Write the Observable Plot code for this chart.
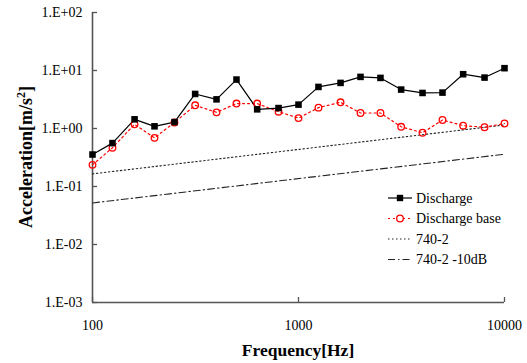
<!DOCTYPE html>
<html>
<head>
<meta charset="utf-8">
<script src="https://cdn.jsdelivr.net/npm/d3@7"></script>
<script src="https://cdn.jsdelivr.net/npm/@observablehq/plot@0.6"></script>
<style>
  html, body { margin: 0; padding: 0; background: white; }
</style>
</head>
<body>
<div id="chart"></div>
<script>
const freqs = [100,125,160,200,250,315,400,500,630,800,1000,1250,1600,2000,2500,3150,4000,5000,6300,8000,10000];
const discharge = [0.356,0.56,1.44,1.09,1.29,3.94,3.18,6.98,2.14,2.25,2.58,5.21,6.11,7.76,7.45,4.69,4.10,4.16,8.63,7.55,10.96];
const dischargeBase = [0.236,0.465,1.18,0.69,1.27,2.51,1.90,2.69,2.69,1.95,1.51,2.29,2.83,1.85,1.85,1.07,0.845,1.40,1.12,1.05,1.22];
const limitFreqs = [100, 10000];
const limit740 = [0.165, 1.15];
const limit740m10 = [0.052, 0.36];
const xTicks = [100, 1000, 10000];
const yTicks = [1e-3, 1e-2, 1e-1, 1e0, 1e1, 1e2];
const seriesNames = ["Discharge", "Discharge base", "740-2", "740-2 -10dB"];

const dData = freqs.map((f, i) => ({f, v: discharge[i]}));
const bData = freqs.map((f, i) => ({f, v: dischargeBase[i]}));
const l1 = limitFreqs.map((f, i) => ({f, v: limit740[i]}));
const l2 = limitFreqs.map((f, i) => ({f, v: limit740m10[i]}));

const fmtY = d => {
  const e = Math.round(Math.log10(d));
  return "1.E" + (e >= 0 ? "+" : "-") + String(Math.abs(e)).padStart(2, "0");
};

const serif = "'Liberation Serif', 'Times New Roman', serif";
const axisColor = "#555";

const chart = Plot.plot({
  width: 527,
  height: 363,
  marginLeft: 92,
  marginRight: 23,
  marginTop: 12,
  marginBottom: 61,
  style: {fontFamily: serif, fontSize: "14px", color: "#000", background: "white"},
  x: {type: "log", domain: [100, 10000]},
  y: {type: "log", domain: [1e-3, 1e2]},
  marks: [
    Plot.axisY({ticks: yTicks, tickFormat: fmtY, tickSize: -5, tickPadding: 15, stroke: axisColor, strokeWidth: 1.3, label: null, fontSize: 14}),
    Plot.axisX({ticks: xTicks, tickFormat: d => String(d), tickSize: -5, tickPadding: 23, stroke: axisColor, strokeWidth: 1.3, label: null, fontSize: 14}),
    Plot.ruleX([100], {stroke: axisColor, strokeWidth: 1.6}),
    Plot.ruleY([1e-3], {stroke: axisColor, strokeWidth: 1.6}),
    Plot.line(l1, {x: "f", y: "v", stroke: "#222", strokeWidth: 1.1, strokeDasharray: "1.5,2.5"}),
    Plot.line(l2, {x: "f", y: "v", stroke: "#222", strokeWidth: 1.1, strokeDasharray: "7,3,1.5,3"}),
    Plot.line(bData, {x: "f", y: "v", stroke: "#ff0000", strokeWidth: 1.2, strokeDasharray: "2,3"}),
    Plot.line(dData, {x: "f", y: "v", stroke: "#000", strokeWidth: 1.2}),
    Plot.dot(bData, {x: "f", y: "v", symbol: "circle", r: 3.3, stroke: "#ff0000", strokeWidth: 1.3, fill: "none"}),
    Plot.dot(dData, {x: "f", y: "v", symbol: "square", r: 3.7, fill: "#000", stroke: "none"})
  ]
});

document.getElementById("chart").appendChild(chart);

const svg = d3.select(chart);

// Axis titles
const yl = svg.append("text")
  .attr("transform", "translate(32,157) rotate(-90)")
  .attr("text-anchor", "middle")
  .style("font-family", serif)
  .style("font-weight", "bold")
  .style("font-size", "18px")
  .attr("fill", "#000");
yl.append("tspan").text("Acceleration[m/s");
yl.append("tspan").attr("baseline-shift", "super").style("font-size", "12px").text("2");
yl.append("tspan").text("]");

svg.append("text")
  .attr("x", 298)
  .attr("y", 356)
  .attr("text-anchor", "middle")
  .style("font-family", serif)
  .style("font-weight", "bold")
  .style("font-size", "17.5px")
  .attr("fill", "#000")
  .text("Frequency[Hz]");

// Legend
const lg = svg.append("g").attr("text-anchor", "start");
const rowsY = [198, 218.5, 239, 259.5];
const styles = [
  {stroke: "#000", dash: null, marker: "square"},
  {stroke: "#ff0000", dash: "2,3", marker: "circle"},
  {stroke: "#222", dash: "1.5,2.5", marker: null},
  {stroke: "#222", dash: "7,3,1.5,3", marker: null}
];
seriesNames.forEach((name, i) => {
  const y = rowsY[i];
  const s = styles[i];
  lg.append("line").attr("x1", 388).attr("x2", 412).attr("y1", y).attr("y2", y)
    .attr("stroke", s.stroke).attr("stroke-width", 1.2)
    .attr("stroke-dasharray", s.dash);
  if (s.marker === "square") {
    lg.append("rect").attr("x", 396.8).attr("y", y - 3.2).attr("width", 6.4).attr("height", 6.4).attr("fill", "#000");
  } else if (s.marker === "circle") {
    lg.append("circle").attr("cx", 400).attr("cy", y).attr("r", 3.3).attr("fill", "white").attr("stroke", "#ff0000").attr("stroke-width", 1.3);
  }
  lg.append("text").attr("x", 416).attr("y", y + 4.8)
    .attr("text-anchor", "start")
    .style("font-family", serif).style("font-size", "14px").attr("fill", "#000")
    .text(name);
});
</script>
</body>
</html>
